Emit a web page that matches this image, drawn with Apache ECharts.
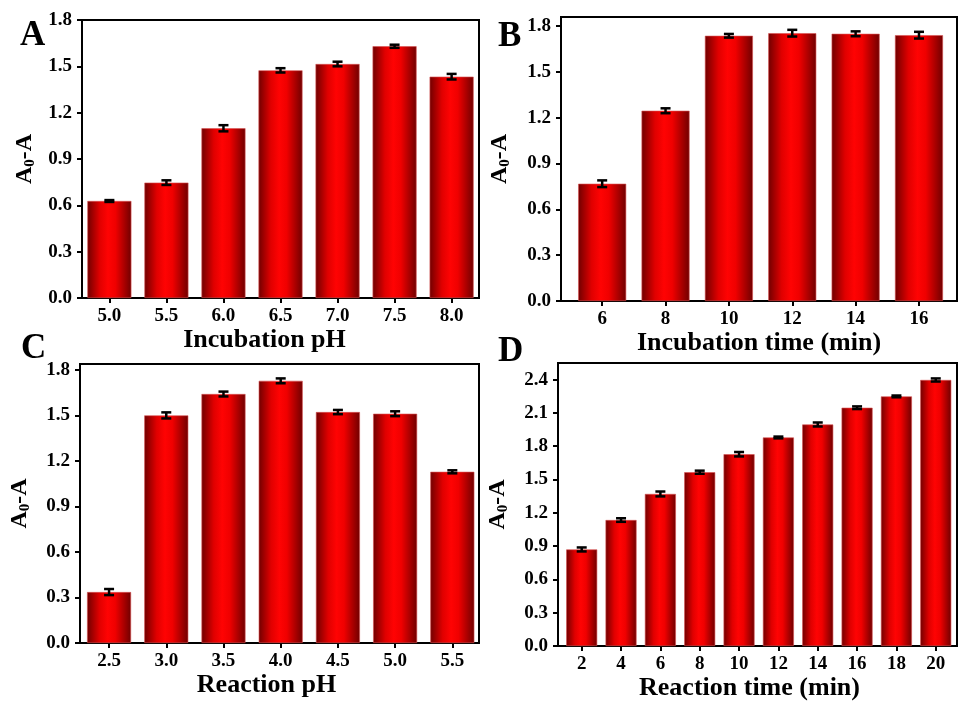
<!DOCTYPE html>
<html>
<head>
<meta charset="utf-8">
<script src="https://cdn.jsdelivr.net/npm/echarts@6/dist/echarts.min.js"></script>
<style>
  html, body { margin: 0; padding: 0; background: #fff; }
  #chart { width: 958px; height: 702px; }
</style>
</head>
<body>
<div id="chart"></div>
<script>
// panel A - incubation pH
var phA = [5.0, 5.5, 6.0, 6.5, 7.0, 7.5, 8.0];
var valA = [0.628, 0.747, 1.099, 1.474, 1.515, 1.630, 1.433];
var errA = [0.006, 0.015, 0.020, 0.014, 0.015, 0.010, 0.018];

// panel B - incubation time
var timeB = [6, 8, 10, 12, 14, 16];
var valB = [0.768, 1.246, 1.737, 1.754, 1.750, 1.741];
var errB = [0.022, 0.016, 0.012, 0.022, 0.016, 0.022];

// panel C - reaction pH
var phC = [2.5, 3.0, 3.5, 4.0, 4.5, 5.0, 5.5];
var valC = [0.336, 1.501, 1.642, 1.729, 1.523, 1.512, 1.129];
var errC = [0.020, 0.020, 0.016, 0.016, 0.014, 0.016, 0.010];

// panel D - reaction time
var timeD = [2, 4, 6, 8, 10, 12, 14, 16, 18, 20];
var valD = [0.870, 1.135, 1.370, 1.566, 1.728, 1.879, 1.996, 2.147, 2.249, 2.397];
var errD = [0.018, 0.016, 0.022, 0.014, 0.020, 0.008, 0.018, 0.012, 0.008, 0.014];

// y tick labels
var yTicks18 = [0, 0.3, 0.6, 0.9, 1.2, 1.5, 1.8];
var yTicks24 = [0, 0.3, 0.6, 0.9, 1.2, 1.5, 1.8, 2.1, 2.4];

var FONT = "'Liberation Serif', 'Times New Roman', serif";

var barColor = new echarts.graphic.LinearGradient(0, 0, 1, 0, [
  { offset: 0, color: '#700000' },
  { offset: 0.28, color: '#e00000' },
  { offset: 0.47, color: '#ff0303' },
  { offset: 0.64, color: '#f00000' },
  { offset: 1, color: '#700000' }
]);

var myChart = echarts.init(document.getElementById('chart'));

var panels = [
  { x: phA, y: valA, e: errA, xmin: 4.76, xmax: 8.24, ymax: 1.8, yt: yTicks18, dec: 1, bw: 44,
    grid: { left: 82, right: 479, top: 20, height: 278 }, name: 'Incubation pH', nameGap: 27, namePad: [0, 32, 0, 0], yGap: 44 },
  { x: timeB, y: valB, e: errB, xmin: 4.7, xmax: 17.2, ymax: 1.86, yt: yTicks18, dec: 0, bw: 48,
    grid: { left: 561, right: 1, top: 17, height: 284 }, name: 'Incubation time (min)', nameGap: 24, namePad: [0, 0, 0, 0], yGap: 48 },
  { x: phC, y: valC, e: errC, xmin: 2.246, xmax: 5.733, ymax: 1.84, yt: yTicks18, dec: 1, bw: 44,
    grid: { left: 80, right: 479, top: 364, height: 279 }, name: 'Reaction pH', nameGap: 28, namePad: [0, 26, 0, 0], yGap: 47 },
  { x: timeD, y: valD, e: errD, xmin: 0.795, xmax: 21.08, ymax: 2.55, yt: yTicks24, dec: 0, bw: 31,
    grid: { left: 558, right: 1, top: 363, height: 283 }, name: 'Reaction time (min)', nameGap: 29, namePad: [0, 16, 0, 0], yGap: 47 }
];

var grids = [], xAxes = [], yAxes = [], series = [];

panels.forEach(function (p, i) {
  grids.push({
    left: p.grid.left, right: p.grid.right, top: p.grid.top, height: p.grid.height,
    show: true, borderColor: '#000', borderWidth: 2, backgroundColor: 'transparent'
  });
  xAxes.push({
    type: 'value', gridIndex: i, min: p.xmin, max: p.xmax,
    splitLine: { show: false },
    axisLine: { show: true, onZero: false, lineStyle: { color: '#000', width: 2 } },
    axisTick: { show: true, length: 5, lineStyle: { color: '#000', width: 2 }, customValues: p.x },
    axisLabel: {
      color: '#000', fontFamily: FONT, fontWeight: 'bold', fontSize: 19, margin: 9,
      customValues: p.x,
      formatter: function (v) { return v.toFixed(p.dec); }
    },
    name: p.name, nameLocation: 'middle', nameGap: p.nameGap,
    nameTextStyle: { color: '#000', fontFamily: FONT, fontWeight: 'bold', fontSize: 26, padding: p.namePad }
  });
  yAxes.push({
    type: 'value', gridIndex: i, min: 0, max: p.ymax,
    splitLine: { show: false },
    axisLine: { show: true, lineStyle: { color: '#000', width: 2 } },
    axisTick: { show: true, length: 5, lineStyle: { color: '#000', width: 2 }, customValues: p.yt },
    axisLabel: {
      color: '#000', fontFamily: FONT, fontWeight: 'bold', fontSize: 19, margin: 10,
      customValues: p.yt,
      formatter: function (v) { return v.toFixed(1); }
    },
    name: '{a|A}{s|0}{a|-A}', nameLocation: 'middle', nameGap: p.yGap,
    nameTextStyle: {
      color: '#000', fontFamily: FONT, fontWeight: 'bold', fontSize: 24,
      rich: {
        a: { color: '#000', fontFamily: FONT, fontWeight: 'bold', fontSize: 24, lineHeight: 26 },
        s: { color: '#000', fontFamily: FONT, fontWeight: 'bold', fontSize: 15, lineHeight: 15, verticalAlign: 'bottom', padding: [8, 0, 0, 0] }
      }
    }
  });
  series.push({
    type: 'bar', xAxisIndex: i, yAxisIndex: i, barWidth: p.bw,
    itemStyle: { color: barColor, borderColor: '#d85050', borderWidth: 0.6 },
    data: p.x.map(function (xv, k) { return [xv, p.y[k]]; }),
    silent: true
  });
  series.push({
    type: 'custom', xAxisIndex: i, yAxisIndex: i, silent: true,
    data: p.x.map(function (xv, k) { return [xv, p.y[k], p.e[k]]; }),
    renderItem: function (params, api) {
      var xv = api.value(0), yv = api.value(1), ev = api.value(2);
      var hi = api.coord([xv, yv + ev]);
      var lo = api.coord([xv, yv - ev]);
      var w = 5;
      var st = { stroke: '#000', lineWidth: 2.5 };
      return {
        type: 'group',
        children: [
          { type: 'line', shape: { x1: hi[0], y1: hi[1], x2: lo[0], y2: lo[1] }, style: st },
          { type: 'line', shape: { x1: hi[0] - w, y1: hi[1], x2: hi[0] + w, y2: hi[1] }, style: st },
          { type: 'line', shape: { x1: lo[0] - w, y1: lo[1], x2: lo[0] + w, y2: lo[1] }, style: st }
        ]
      };
    },
    z: 5
  });
});

var letterStyle = { font: "bold 35px 'Liberation Serif', 'Times New Roman', serif", fill: '#000', textVerticalAlign: 'middle' };

myChart.setOption({
  animation: false,
  backgroundColor: '#fff',
  grid: grids,
  xAxis: xAxes,
  yAxis: yAxes,
  series: series,
  graphic: [
    { type: 'text', left: 20, top: 18, style: Object.assign({ text: 'A' }, letterStyle) },
    { type: 'text', left: 498, top: 19, style: Object.assign({ text: 'B' }, letterStyle) },
    { type: 'text', left: 21, top: 331, style: Object.assign({ text: 'C' }, letterStyle) },
    { type: 'text', left: 498, top: 334, style: Object.assign({ text: 'D' }, letterStyle) }
  ]
});

window.addEventListener('resize', function () {
  myChart.resize();
});
</script>
</body>
</html>
